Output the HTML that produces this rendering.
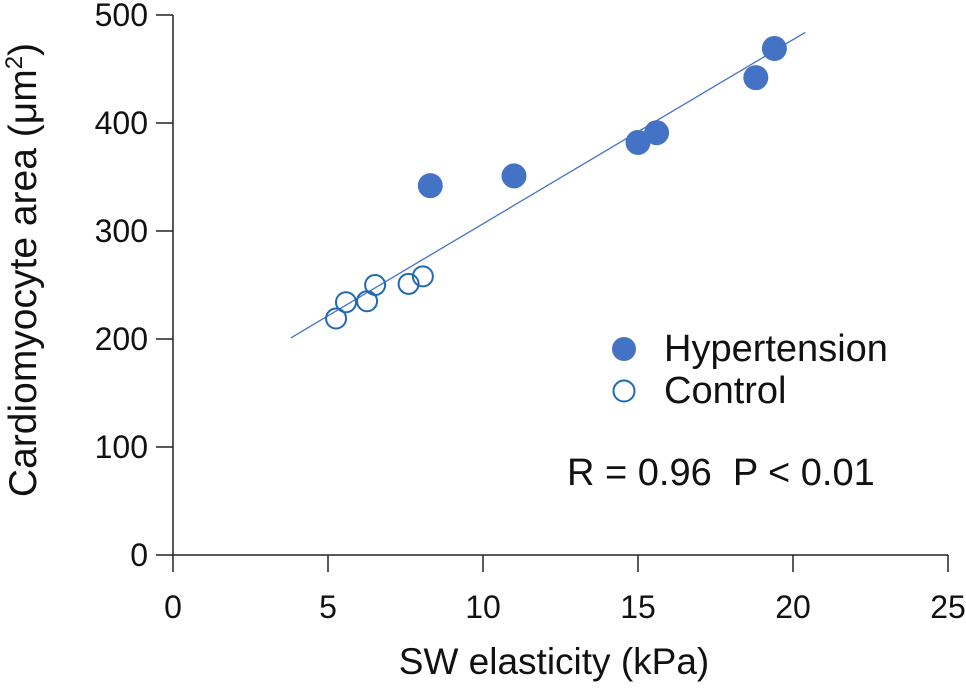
<!DOCTYPE html>
<html><head><meta charset="utf-8"><style>
body{margin:0;background:#fff}
svg text{font-family:"Liberation Sans",Arial,sans-serif;fill:#111}
</style></head><body>
<svg width="966" height="686" viewBox="0 0 966 686">
<g id="axes"></g>
<g id="marks"></g>
<text x="554" y="674" text-anchor="middle" font-size="37">SW elasticity (kPa)</text>
<text transform="translate(36,270) rotate(-90)" text-anchor="middle" font-size="39">Cardiomyocyte area (μm<tspan dy="-14" font-size="24">2</tspan><tspan dy="14">)</tspan></text>
<circle cx="624" cy="349" r="12" fill="#4472C4"/>
<text x="664" y="361" font-size="38">Hypertension</text>
<circle cx="624" cy="391" r="10.5" fill="none" stroke="#1F6AB5" stroke-width="2"/>
<text x="664" y="403" font-size="38">Control</text>
<text x="567" y="485" font-size="38">R = 0.96&#160; P &lt; 0.01</text>
</svg>
<script>
const xTicks=[0,5,10,15,20,25];
const yTicks=[0,100,200,300,400,500];
const hypX=[8.3,11.0,15.0,15.6,18.8,19.4];
const hypY=[342,351,382,391,442,469];
const ctlX=[5.26,5.58,6.26,6.52,7.6,8.06];
const ctlY=[219,234,235,250,251,258];
const fitX=[3.8,20.4];
const fitY=[201,484];
const NS="http://www.w3.org/2000/svg";
const sx=v=>173+v*31;
const sy=v=>555-v*1.08;
function mk(t,a,p){const e=document.createElementNS(NS,t);for(const k in a)e.setAttribute(k,a[k]);p.appendChild(e);return e;}
const ax=document.getElementById('axes'),mg=document.getElementById('marks');
let l=mk('line',{x1:173,y1:15,x2:173,y2:555,stroke:'#222','stroke-width':1.5},ax);


l=mk('line',{x1:156,y1:555,x2:948,y2:555,stroke:'#222','stroke-width':1.5},ax);


xTicks.forEach(v=>{
 let t=mk('line',{x1:sx(v),y1:555,x2:sx(v),y2:572,stroke:'#222','stroke-width':1.5},ax);
 
 
 let tx=mk('text',{x:sx(v),y:618,'text-anchor':'middle','font-size':32},ax);tx.textContent=v;
 
 
});
yTicks.forEach(v=>{
 if(v>0){let t=mk('line',{x1:156,y1:sy(v),x2:173,y2:sy(v),stroke:'#222','stroke-width':1.5},ax);
 
 }
 let tx=mk('text',{x:148,y:sy(v)+11,'text-anchor':'end','font-size':32},ax);tx.textContent=v;
 
 
});
l=mk('line',{x1:sx(fitX[0]),y1:sy(fitY[0]),x2:sx(fitX[1]),y2:sy(fitY[1]),stroke:'#4472C4','stroke-width':1.3},mg);


ctlX.forEach((x,i)=>{
 let c=mk('circle',{cx:sx(x),cy:sy(ctlY[i]),r:10,fill:'none',stroke:'#1F6AB5','stroke-width':2},mg);
 
 
});
hypX.forEach((x,i)=>{
 let c=mk('circle',{cx:sx(x),cy:sy(hypY[i]),r:12.5,fill:'#4472C4'},mg);
 
 
});
</script>
</body></html>
